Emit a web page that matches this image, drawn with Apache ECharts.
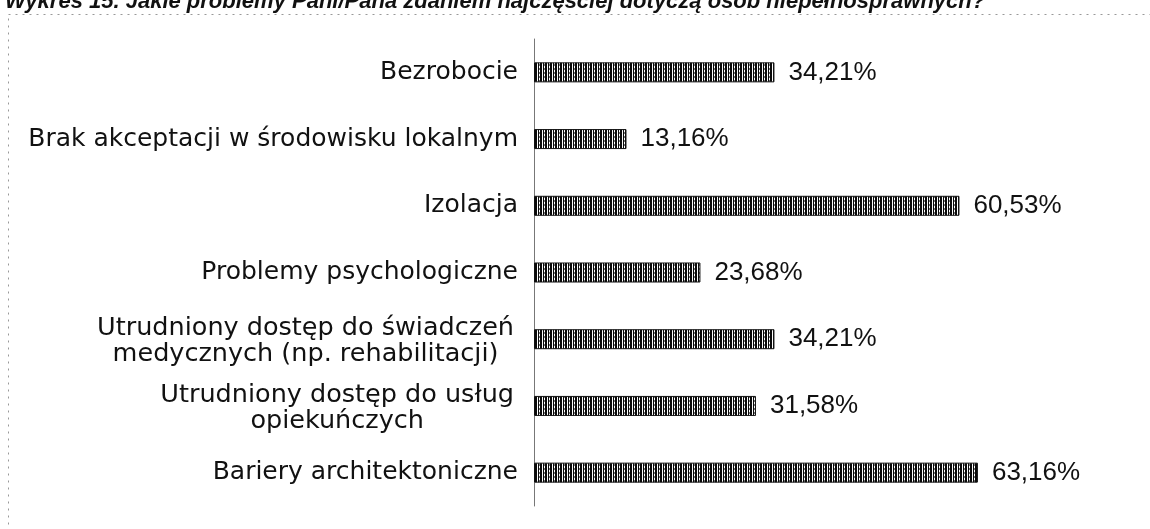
<!DOCTYPE html>
<html>
<head>
<meta charset="utf-8">
<script src="https://cdn.jsdelivr.net/npm/echarts@6/dist/echarts.min.js"></script>
<style>
  html, body { margin: 0; padding: 0; background: #fff; }
  #chart { width: 1150px; height: 529px; }
</style>
</head>
<body>
<div id="chart"></div>
<script>
const titleText = 'Wykres 15. Jakie problemy Pani/Pana zdaniem najczęściej dotyczą osób niepełnosprawnych?';

const categories = [
  'Bezrobocie',
  'Brak akceptacji w środowisku lokalnym',
  'Izolacja',
  'Problemy psychologiczne',
  'Utrudniony dostęp do świadczeń\nmedycznych (np. rehabilitacji)',
  'Utrudniony dostęp do usług\nopiekuńczych',
  'Bariery architektoniczne',
];

const shares = [34.21, 13.16, 60.53, 23.68, 34.21, 31.58, 63.16];

// wzór kreskowany jak na skanie
const makeStripes = () => {
  const c = document.createElement('canvas');
  c.width = 5;
  c.height = 4;
  const ctx = c.getContext('2d');
  ctx.fillStyle = '#fff';
  ctx.fillRect(0, 0, 5, 4);
  ctx.fillStyle = '#0a0a0a';
  ctx.fillRect(0, 0, 2, 4);
  ctx.fillRect(3, 0, 1, 4);
  ctx.fillStyle = '#777';
  ctx.fillRect(4, 0, 1, 2);
  return c;
};

const chart = echarts.init(document.getElementById('chart'));

const catFont = '"DejaVu Sans", sans-serif';
const valFont = '"Liberation Sans", Arial, sans-serif';

const option = {
  animation: false,
  title: {
    text: titleText,
    left: 0,
    top: -14,
    textStyle: {
      fontFamily: valFont,
      fontStyle: 'italic',
      fontWeight: 'bold',
      fontSize: 22,
      color: '#111',
    },
  },
  graphic: [
    {
      type: 'rect',
      shape: { x: 8.5, y: 14.5, width: 1300, height: 600 },
      style: { fill: 'none', stroke: '#999', lineWidth: 1, lineDash: [2, 5] },
      silent: true,
    },
  ],
  grid: {
    left: 534,
    top: 39,
    width: 492,
    height: 467,
  },
  xAxis: {
    type: 'value',
    min: 0,
    max: 70,
    show: false,
  },
  yAxis: {
    type: 'category',
    data: categories,
    inverse: true,
    axisTick: { show: false },
    axisLine: { show: true, lineStyle: { color: '#777', width: 1 } },
    axisLabel: {
      margin: 16,
      fontFamily: catFont,
      fontSize: 25,
      lineHeight: 25,
      color: '#111',
      formatter: (value) => {
        if (value.indexOf('\n') < 0) return value;
        return value.split('\n').map((s) => `{c|${s}}`).join('\n');
      },
      rich: {
        c: {
          align: 'center',
          fontFamily: catFont,
          fontSize: 25.5,
          lineHeight: 26,
          color: '#111',
          padding: [4, 4, 0, 0],
        },
      },
    },
  },
  series: [
    {
      type: 'bar',
      data: shares,
      barWidth: 20,
      itemStyle: {
        color: { image: makeStripes(), repeat: 'repeat' },
        borderColor: '#111',
        borderWidth: 1,
      },
      label: {
        show: true,
        position: 'right',
        distance: 14,
        fontFamily: valFont,
        fontSize: 26,
        color: '#111',
        formatter: (p) => `${p.value.toFixed(2).replace('.', ',')}%`,
      },
    },
  ],
};

chart.setOption(option);
</script>
</body>
</html>
